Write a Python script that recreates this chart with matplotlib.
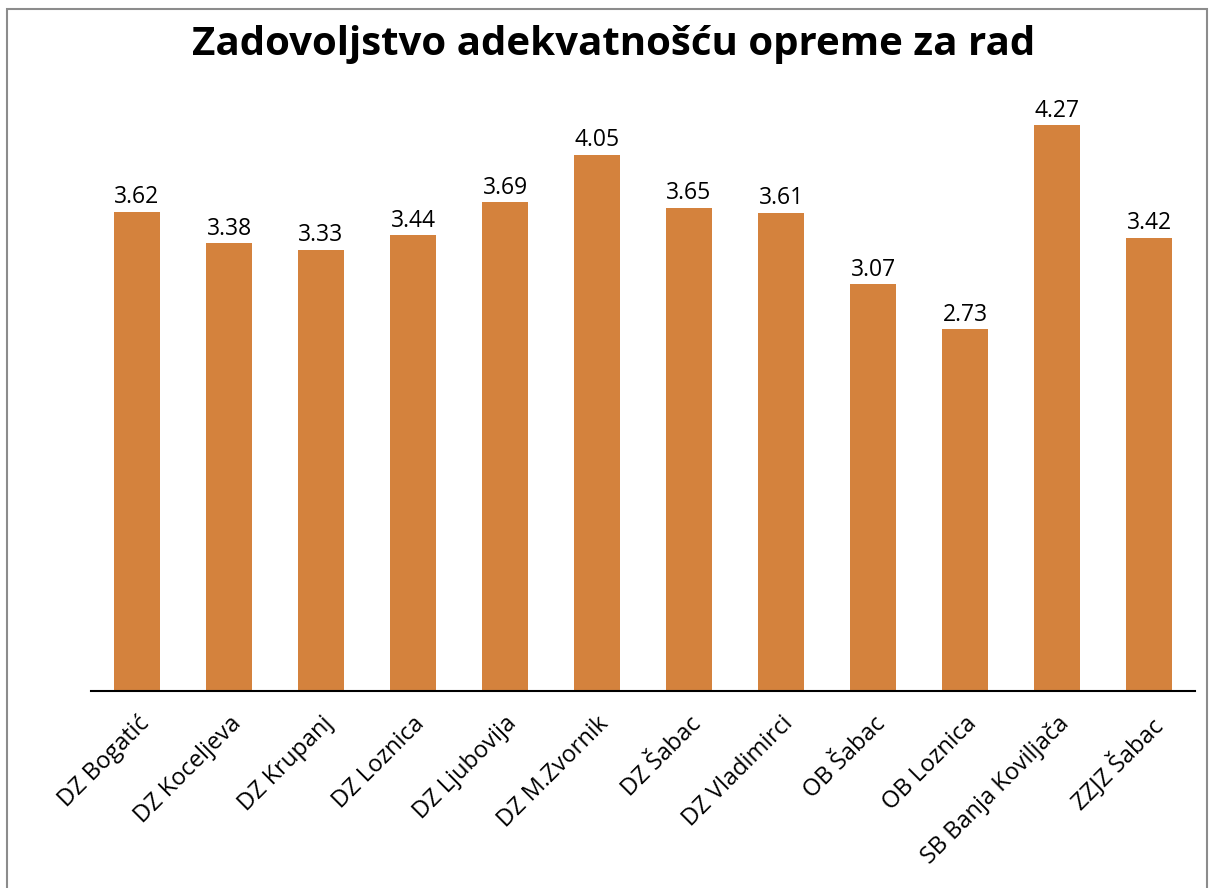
import matplotlib
matplotlib.use('Agg')
import matplotlib.pyplot as plt
from matplotlib.patches import Rectangle

plt.rcParams['font.family'] = ['Open Sans', 'DejaVu Sans']

institutions = ['DZ Bogatić', 'DZ Koceljeva', 'DZ Krupanj', 'DZ Loznica',
                'DZ Ljubovija', 'DZ M.Zvornik', 'DZ Šabac', 'DZ Vladimirci',
                'OB Šabac', 'OB Loznica', 'SB Banja Koviljača', 'ZZJZ Šabac']
scores = [3.62, 3.38, 3.33, 3.44, 3.69, 4.05, 3.65, 3.61, 3.07, 2.73, 4.27, 3.42]

bar_color = '#D4823D'

fig = plt.figure(figsize=(12.1, 8.88), dpi=100)
ax = fig.add_axes([91/1210, 197/888, (1195-91)/1210, (793-197)/888])

x = list(range(len(institutions)))
bars = ax.bar(x, scores, width=0.5, color=bar_color)
ax.bar_label(bars, labels=[f'{v:.2f}' for v in scores], padding=2, fontsize=16.5)

ax.set_xlim(-0.5, len(institutions) - 0.5)
ax.set_ylim(0, 4.5)
ax.set_xticks(x)
ax.set_xticklabels(institutions, rotation=45, ha='right', rotation_mode='anchor', fontsize=17)
ax.tick_params(axis='x', length=0, pad=15)
ax.set_yticks([])
for s in ['top', 'right', 'left']:
    ax.spines[s].set_visible(False)
ax.spines['bottom'].set_linewidth(1.5)

fig.text(614/1210, 1 - 44/888, 'Zadovoljstvo adekvatnošću opreme za rad',
         ha='center', va='center', fontsize=29, fontweight='bold')

# chart border
fig.patches.append(Rectangle((7/1210, -0.01), (1207-7)/1210, 1 - 9/888 + 0.01,
                             transform=fig.transFigure, fill=False,
                             edgecolor='#8c8c8c', linewidth=1.5))

fig.savefig('out.png', dpi=100)
